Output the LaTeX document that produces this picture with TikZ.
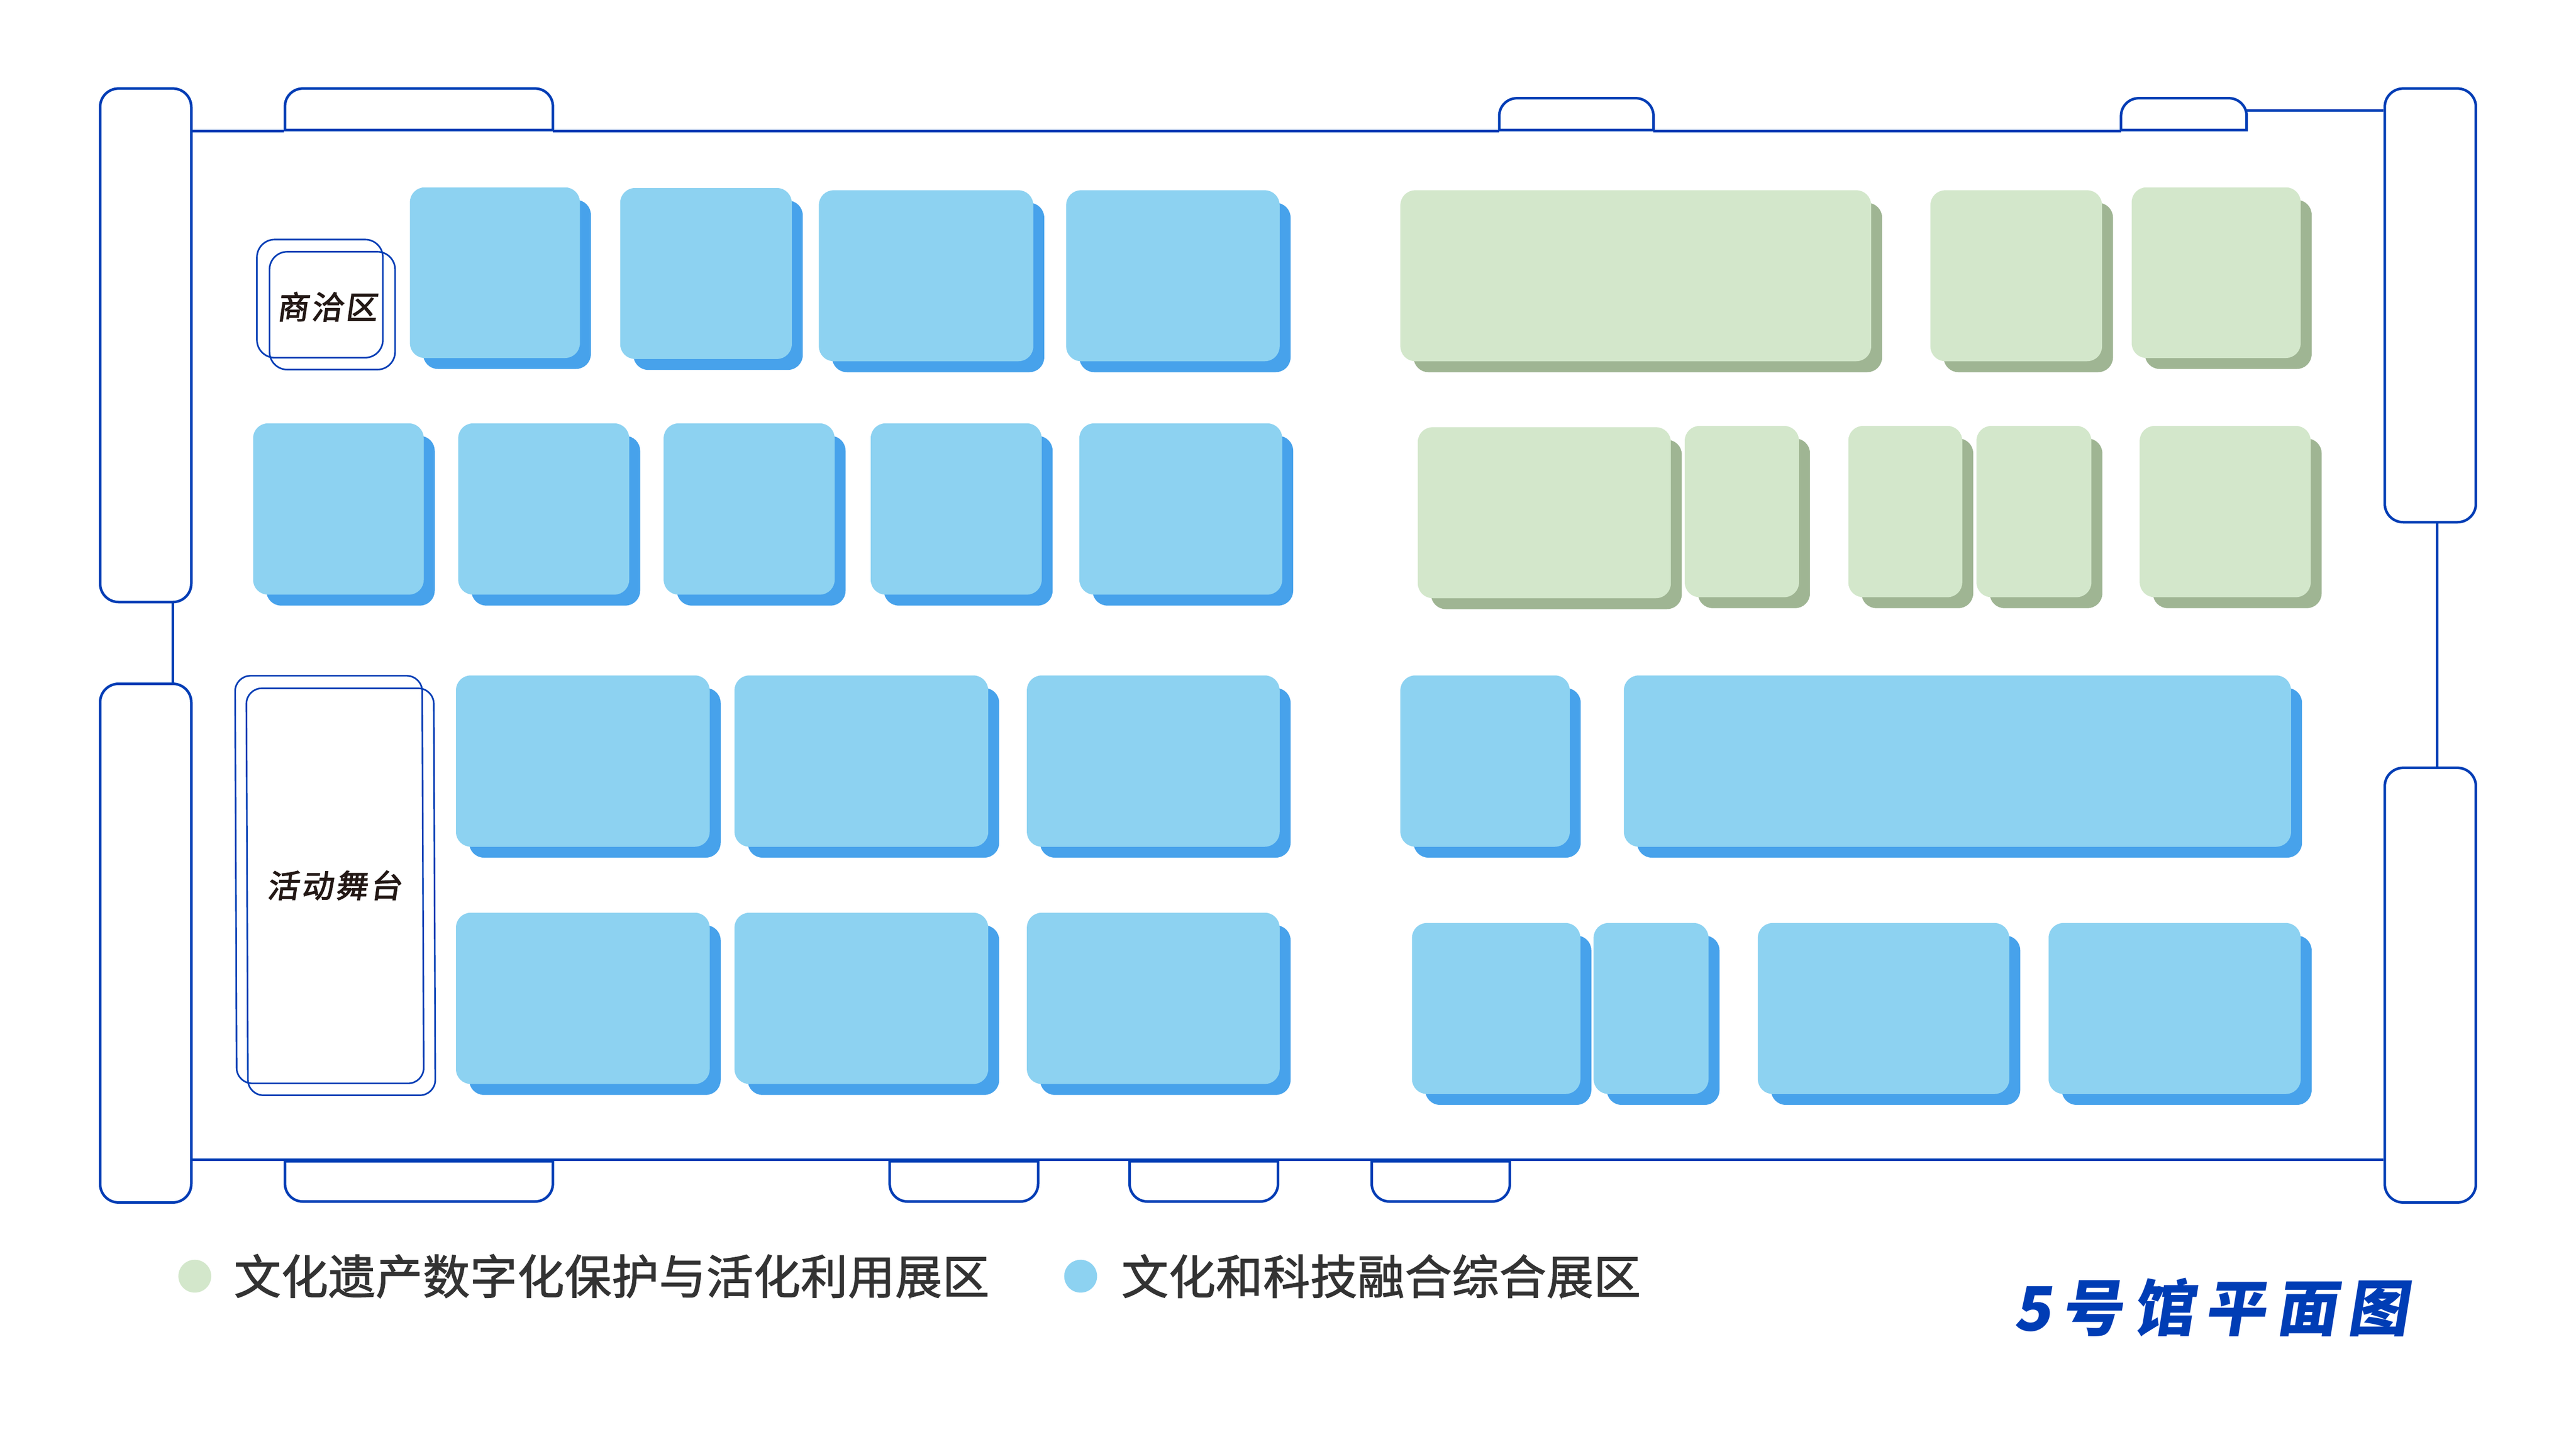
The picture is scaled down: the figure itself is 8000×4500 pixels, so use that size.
\documentclass[tikz,border=0pt]{standalone}
\usepackage{xcolor}
\usepackage{fontspec}
\setmainfont{Noto Sans CJK SC}
\newfontfamily\legendfont[LetterSpace=0.5,FakeBold=1.5]{Noto Sans CJK SC}
\newfontfamily\labelfont[FakeSlant=0.14,LetterSpace=8,FakeBold=2.5]{Noto Sans CJK SC}
\newfontfamily\titlefont[FakeSlant=0.16,LetterSpace=17]{Noto Sans CJK SC}
\definecolor{planblue}{HTML}{003DB5}
\definecolor{boothblue}{HTML}{8DD2F1}
\definecolor{shadeblue}{HTML}{47A2EB}
\definecolor{boothgreen}{HTML}{D3E7CB}
\definecolor{shadegreen}{HTML}{9FB593}
\tikzset{
  span/.style n args={4}{at={({((#1)+(#3))/2},{((#2)+(#4))/2})},
    minimum width={((#3)-(#1))*0.01cm},minimum height={((#4)-(#2))*0.01cm}},
  bluebooth/.style={rectangle,fill=boothblue,rounded corners=0.46cm,inner sep=0pt},
  blueshade/.style={rectangle,fill=shadeblue,rounded corners=0.46cm,inner sep=0pt},
  greenbooth/.style={rectangle,fill=boothgreen,rounded corners=0.46cm,inner sep=0pt},
  greenshade/.style={rectangle,fill=shadegreen,rounded corners=0.46cm,inner sep=0pt},
  pillar/.style={rectangle,draw=planblue,line width=0.08cm,rounded corners=0.57cm,inner sep=0pt},
  wall/.style={draw=planblue,line width=0.08cm},
  tie/.style={draw=planblue,line width=0.07cm},
  thinframe/.style={draw=planblue,line width=0.05cm},
  legendtext/.style={anchor=west,inner sep=0pt,text=black!80,font=\legendfont\fontsize{41.5}{50}\selectfont},
  spottext/.style={inner sep=0pt,text={rgb,255:red,35;green,24;blue,21},font=\labelfont\fontsize{28}{34}\selectfont},
  dot/.style={circle,minimum size=1.02cm,inner sep=0pt}
}
\begin{document}
\begin{tikzpicture}[x=0.01cm,y=-0.01cm]
  \useasboundingbox (0,0) rectangle (8000,4500);
  % pillars
  \foreach \n/\xa/\ya/\xb/\yb in {pillarA/311/275/594/1870,pillarB/311/2124/594/3735,
    pillarC/7406/275/7689/1622,pillarD/7406/2385/7689/3735}
    \node[pillar,span={\xa}{\ya}{\xb}{\yb}] (\n) {};
  \draw[tie] ([xshift=0.84cm]pillarA.south) -- ([xshift=0.84cm]pillarB.north);
  \draw[tie] ([xshift=0.21cm]pillarC.south) -- ([xshift=0.21cm]pillarD.north);
  % doors
  \foreach \xa/\ya/\xb in {885/275/1717,4656/305/5135,6587/305/6977}
    \draw[wall] (\xa,404) [rounded corners=0.55cm] -- (\xa,\ya) -- (\xb,\ya) [sharp corners] -- (\xb,404) -- cycle;
  \foreach \xa/\xb in {885/1717,2763/3224,3508/3969,4260/4689}
    \draw[wall] (\xa,3607) [rounded corners=0.55cm] -- (\xa,3732) -- (\xb,3732) [sharp corners] -- (\xb,3607) -- cycle;
  % walls
  \coordinate (walla) at (881,407);
  \coordinate (wallb) at (1717,407);
  \coordinate (wallc) at (4656,407);
  \coordinate (walld) at (5135,407);
  \coordinate (walle) at (6587,407);
  \coordinate (wallf) at (6977,343);
  \draw[wall] (pillarA.east |- walla) -- (walla);
  \draw[wall] (wallb) -- (wallc);
  \draw[wall] (walld) -- (walle);
  \draw[wall] (wallf) -- (pillarC.west |- wallf);
  \coordinate (wallg) at (594,3603);
  \draw[wall] (wallg) -- (pillarD.west |- wallg);
  % blue booths
  \foreach \n/\xa/\ya/\xb/\yb in {a1/1273/582/1801/1112,a2/1926/584/2459/1115,a3/2543/591/3209/1122,a4/3311/591/3974/1122,
    b1/786/1315/1316/1847,b2/1423/1315/1954/1847,b3/2061/1315/2592/1847,b4/2704/1315/3235/1847,b5/3352/1315/3982/1847,
    c1/1416/2098/2204/2630,c2/2281/2098/3069/2630,c3/3189/2098/3974/2630,c4/4349/2098/4875/2630,c5/5043/2098/7115/2630,
    d1/1416/2835/2204/3367,d2/2281/2835/3069/3367,d3/3189/2835/3974/3367,
    d4/4385/2867/4908/3398,d5/4949/2867/5306/3398,d6/5459/2867/6240/3398,d7/6362/2867/7145/3398}
  {
    \node[blueshade,span={\xa+41}{\ya+39}{\xb+34}{\yb+34}] (\n s) {};
    \node[bluebooth,span={\xa}{\ya}{\xb}{\yb}] (\n) {};
  }
  % green booths
  \foreach \n/\xa/\ya/\xb/\yb in {e1/4349/591/5811/1122,e2/5995/591/6528/1122,e3/6620/582/7145/1112,
    f1/4403/1327/5189/1858,f2/5232/1323/5587/1855,f3/5740/1323/6094/1855,f4/6138/1323/6495/1855,f5/6645/1323/7176/1855}
  {
    \node[greenshade,span={\xa+41}{\ya+39}{\xb+34}{\yb+34}] (\n s) {};
    \node[greenbooth,span={\xa}{\ya}{\xb}{\yb}] (\n) {};
  }
  % talks + stage
  \draw[thinframe,rounded corners=0.55cm] (798,744) rectangle (1189,1111);
  \draw[thinframe,rounded corners=0.55cm] (837,782) rectangle (1227,1148);
  \draw[thinframe,rounded corners=0.48cm] (730,2099) -- (1311,2099) -- (1316,3365) -- (735,3365) -- cycle;
  \draw[thinframe,rounded corners=0.48cm] (765,2138) -- (1347,2138) -- (1352,3402) -- (770,3402) -- cycle;
  \node[spottext] (talks) at (1015,953) {商洽区};
  \node[spottext] (stage) at (1038,2750) {活动舞台};
  % legend
  \node[dot,fill=boothgreen] (dotgreen) at (605,3964) {};
  \node[legendtext] (textgreen) at (726,3964) {文化遗产数字化保护与活化利用展区};
  \node[dot,fill=boothblue] (dotblue) at (3356,3964) {};
  \node[legendtext] (textblue) at (3482,3964) {文化和科技融合综合展区};
  \node[inner sep=0pt,text=planblue,font=\titlefont\bfseries\fontsize{54}{64}\selectfont] (title) at (6866,4061) {5号馆平面图};
\end{tikzpicture}
\end{document}
